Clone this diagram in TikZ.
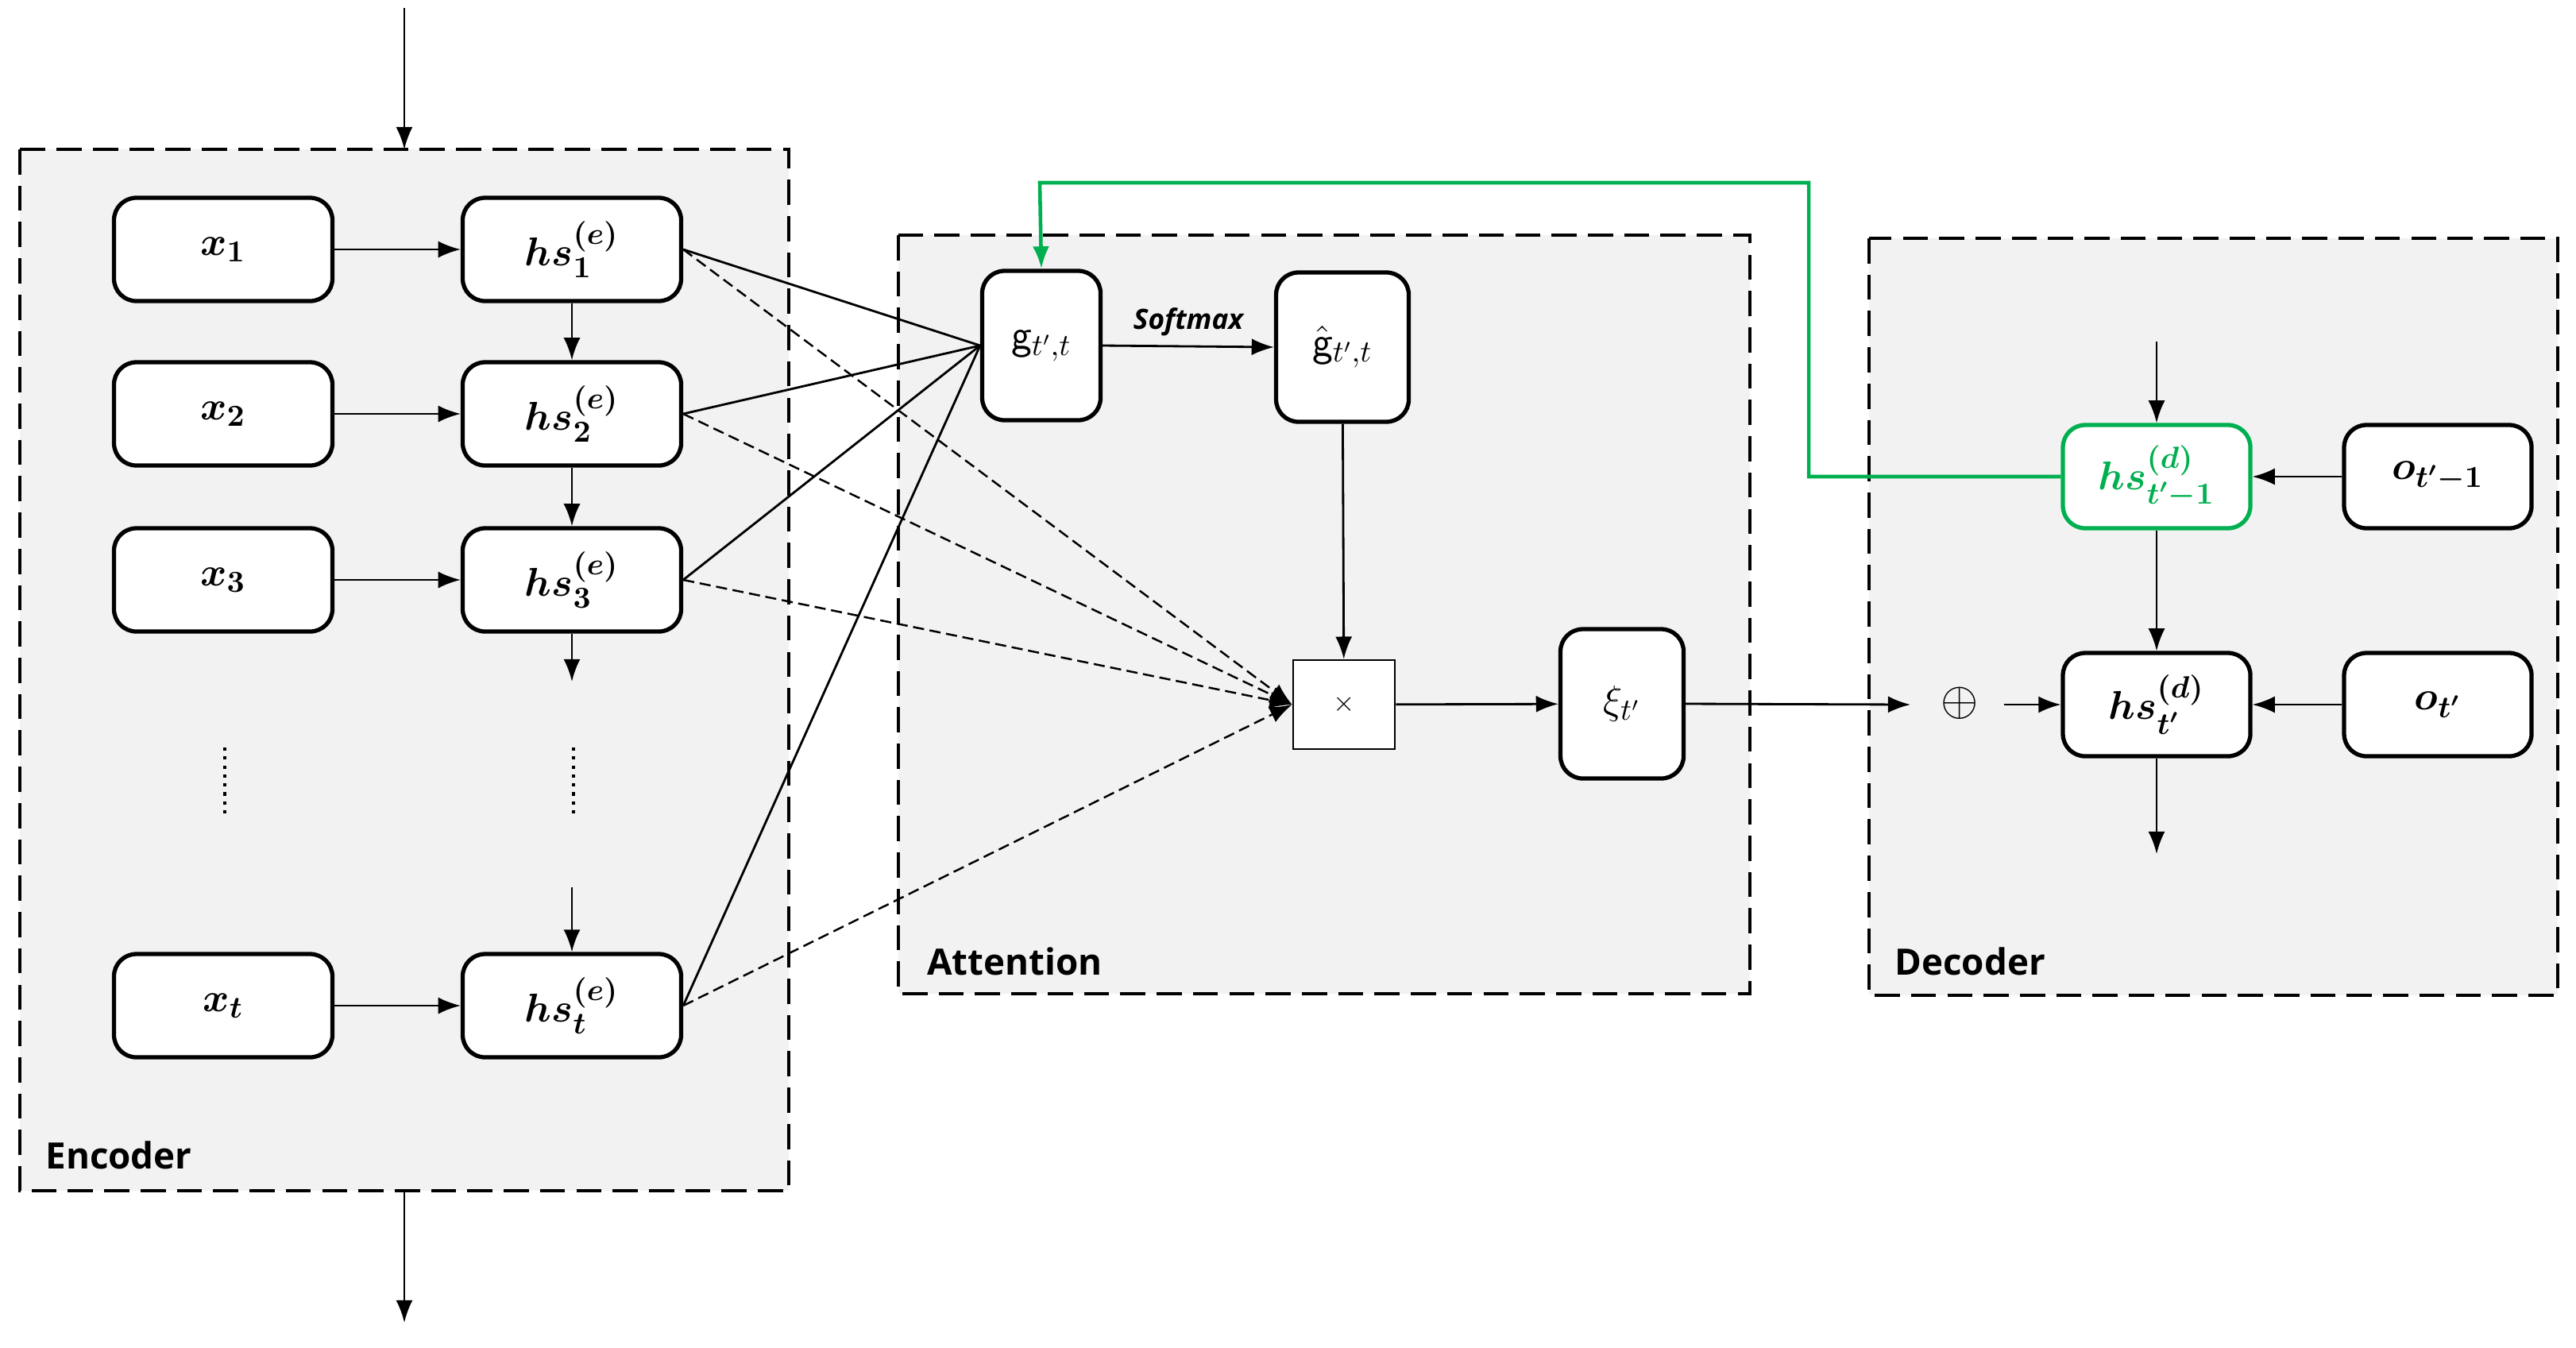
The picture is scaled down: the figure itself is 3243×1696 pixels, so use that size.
\documentclass[tikz,border=0pt]{standalone}
\usepackage{amsmath,bm}
\usepackage{fontspec}
\newfontfamily\labfont{Open Sans}
\usetikzlibrary{arrows.meta}
\definecolor{bg}{HTML}{F2F2F2}
\definecolor{grn}{HTML}{00B050}
\begin{document}
\begin{tikzpicture}[x=0.01cm,y=-0.01cm,
  area/.style={draw,fill=bg,dash pattern=on 9pt off 4pt,line width=1.3pt},
  box/.style={draw,fill=white,rounded corners=8pt,line width=1.5pt,minimum width=275*0.01cm,minimum height=130*0.01cm,inner sep=0pt,font=\fontsize{15}{17}\selectfont},
  tall/.style={draw,fill=white,rounded corners=8pt,line width=1.5pt,inner sep=0pt,font=\fontsize{15}{17}\selectfont},
  arr/.style={-{Latex[length=8pt,width=6pt]},line width=0.8pt},
  dsh/.style={-{Latex[length=8pt,width=6pt]},line width=0.7pt,dash pattern=on 4pt off 2pt},
  sl/.style={line width=0.8pt},
  lab/.style={font=\labfont\bfseries\fontsize{13}{15}\selectfont,anchor=west}]
\useasboundingbox (0,0) rectangle (3243,1696);
% areas
\draw[area] (25,188) rectangle (993,1499);
\draw[area] (1131,296) rectangle (2203,1251);
\draw[area] (2353,300) rectangle (3220,1253);
\node[lab] (enc) at (45,1454) {Encoder};
\node[lab] (att) at (1155,1210) {Attention};
\node[lab] (dec) at (2373,1210) {Decoder};
\coordinate (top) at (509,10);
\coordinate (encin) at (509,188);
\coordinate (encout) at (509,1499);
\coordinate (bot) at (509,1665);
\draw[arr] (top) -- (encin);
\draw[arr] (encout) -- (bot);
% encoder nodes
\node[box] (x1) at (281,314) {$\bm{x_1}$};
\node[box] (x2) at (281,521) {$\bm{x_2}$};
\node[box] (x3) at (281,730) {$\bm{x_3}$};
\node[box] (xt) at (281,1266) {$\bm{x_t}$};
\node[box] (h1) at (720,314) {$\bm{hs_1^{(e)}}$};
\node[box] (h2) at (720,521) {$\bm{hs_2^{(e)}}$};
\node[box] (h3) at (720,730) {$\bm{hs_3^{(e)}}$};
\node[box] (ht) at (720,1266) {$\bm{hs_t^{(e)}}$};
\foreach \a/\b in {x1/h1,x2/h2,x3/h3,xt/ht} \draw[arr] (\a) -- (\b);
\draw[arr] (h1) -- (h2);
\draw[arr] (h2) -- (h3);
\coordinate (h3o) at (720,858);
\draw[arr] (h3) -- (h3o);
\coordinate (htin) at (720,1117);
\draw[arr] (htin) -- (ht);
\coordinate (d1a) at (283,941); \coordinate (d1b) at (283,1030);
\coordinate (d2a) at (722,941); \coordinate (d2b) at (722,1030);
\draw[line width=1pt,dash pattern=on 1.2pt off 2pt] (d1a) -- (d1b);
\draw[line width=1pt,dash pattern=on 1.2pt off 2pt] (d2a) -- (d2b);
% attention nodes
\node[tall,minimum width=149*0.01cm,minimum height=188*0.01cm] (g) at (1311,435) {$\mathsf{g}_{t',t}$};
\node[tall,minimum width=167*0.01cm,minimum height=188*0.01cm] (gh) at (1690,437) {$\hat{\mathsf{g}}_{t',t}$};
\node[draw,fill=white,line width=0.8pt,minimum width=128*0.01cm,minimum height=112*0.01cm,inner sep=0pt] (m) at (1692,887) {$\times$};
\node[tall,minimum width=155*0.01cm,minimum height=188*0.01cm] (xi) at (2042,886) {$\xi_{t'}$};
\draw[arr] (g.east) -- node[above,font=\labfont\bfseries\itshape\fontsize{10}{12}\selectfont]{Softmax} (gh.west);
\draw[arr] (gh) -- (m);
\draw[arr] (m) -- (xi);
\foreach \h in {h1,h2,h3,ht} {
  \draw[sl] (\h.east) -- (g.west);
  \draw[dsh] (\h.east) -- (m.west);
}
% decoder nodes
\node[box,draw=grn,text=grn,minimum width=236*0.01cm] (hp) at (2715,600) {$\bm{hs_{t'-1}^{(d)}}$};
\node[box,minimum width=236*0.01cm] (op) at (3069,600) {$\bm{o_{t'-1}}$};
\node[box,minimum width=236*0.01cm] (hd) at (2715,887) {$\bm{hs_{t'}^{(d)}}$};
\node[box,minimum width=236*0.01cm] (od) at (3069,887) {$\bm{o_{t'}}$};
\node[inner sep=0pt,font=\fontsize{16}{18}\selectfont] (plus) at (2467,885) {$\oplus$};
\coordinate (plin) at (2405,887);
\coordinate (plout) at (2523,887);
\draw[arr] (xi.east) -- (plin);
\draw[arr] (plout) -- (hd.west);
\draw[arr] (op) -- (hp);
\draw[arr] (od) -- (hd);
\draw[arr] (hp) -- (hd);
\coordinate (dtop) at (2715,430);
\coordinate (dbot) at (2715,1075);
\draw[arr] (dtop) -- (hp);
\draw[arr] (hd) -- (dbot);
\coordinate (c1) at (2277,600);
\coordinate (c2) at (2277,230);
\coordinate (c3) at (1309,230);
\draw[arr,grn,line width=1.3pt] (hp.west) -- (c1) -- (c2) -- (c3) -- (g.north);
\end{tikzpicture}
\end{document}
